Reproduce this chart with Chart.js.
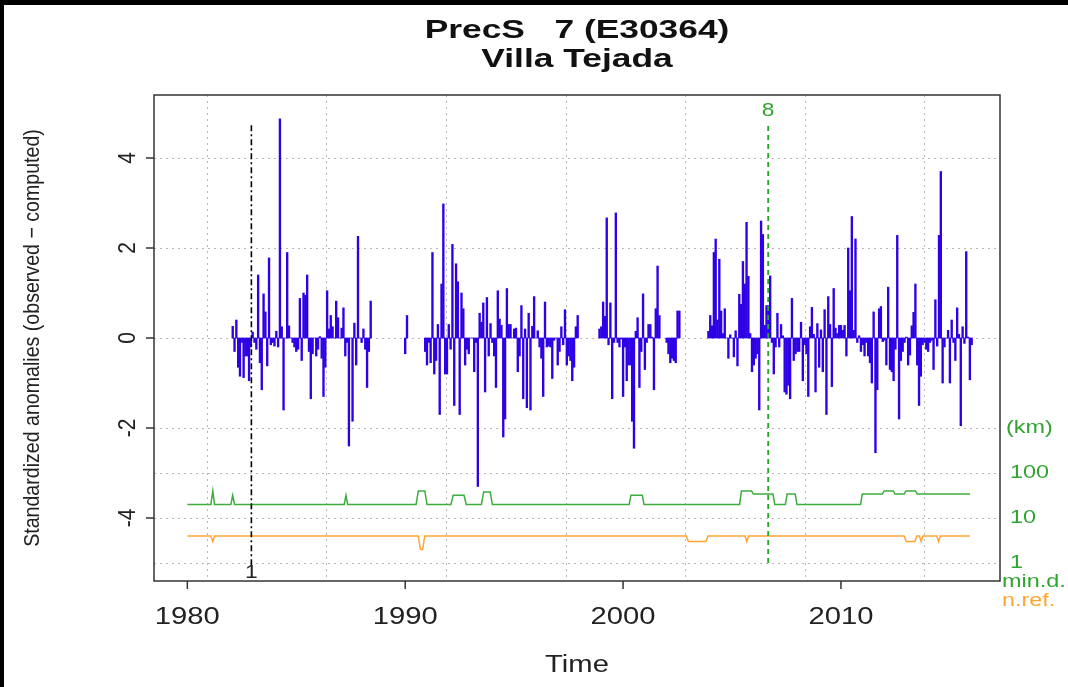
<!DOCTYPE html>
<html>
<head>
<meta charset="utf-8">
<script src="https://cdn.jsdelivr.net/npm/chart.js@4"></script>
<style>
html, body { margin: 0; padding: 0; background: #fff; }
#wrap { position: relative; width: 1068px; height: 687px; }
</style>
</head>
<body>
<div id="wrap"><canvas id="anomChart" width="1068" height="687"></canvas></div>
<script>
// monthly standardized anomalies, one array per block of consecutive months
const segStarts = [1982.083, 1990.0, 1990.917, 1998.917, 2002.0, 2003.917];
const seg1982 = [.26,-.3,.4,-.65,-.85,-.1,-.88,-.4,-.4,-.95,
  -.2,.13,-.1,-.25,1.4,-.55,-1.15,.98,.58,-.62,
  1.78,-.15,-.1,-.18,.15,-.2,4.87,.25,-1.6,0,
  1.9,.27,0,-.1,-.2,-.3,-.25,.88,-.5,1.0,
  .95,1.4,-.3,-1.35,-.35,0,-.4,-.25,.03,-.45,
  -1.3,-.65,1.05,.2,.5,.25,0,.82,.45,0,
  .22,.67,-.4,-.1,-2.4,0,-1.85,.33,-.6,2.26,
  0,-.1,.2,-.25,-1.1,-.3,.82];
const seg1990 = [-.35, .5];
const seg1991 = [-.3,-.6,-.1,-.55,1.9,-.8,-.5,.3,-1.7,1.2,
  2.98,-.8,-.8,.3,-.25,2.08,-1.5,1.65,1.25,-1.7,
  1.0,.65,-.6,-.25,-.35,0,0,-.75,-.1,-3.3,
  .55,.35,.78,-1.2,.9,-.4,.32,-.1,-.4,-1.1,
  1.05,.42,.28,-2.2,-1.8,1.1,.3,.3,0,.2,
  .22,-.75,-.4,.72,-1.35,.2,-1.55,.55,-1.6,.26,
  .92,0,.16,-.2,-.45,-1.3,.8,-.2,-.18,-.2,
  -.9,-.05,0,-.6,-.3,.25,-.15,.63,-.6,-.4,
  -.5,-.95,-.65,.25,.5];
const seg1999 = [.2,.25,.8,.48,2.67,-.15,.78,-1.35,-.1,2.78,
  -.1,-.2,-.02,-1.3,-.2,-.95,-.6,-.6,-1.85,-2.45,
  .15,.45,-1.1,-.3,.98,-.7,-.1,.3,.3,.02,
  -1.15,.65,1.6,.5];
const seg2002 = [-.1,-.35,-.55,-.45,-.5,-.55,.6,.6];
const seg2004 = [.15,.5,.27,1.9,2.2,.4,1.75,.6,.1,.65,
  0,-.45,.07,0,-.42,.16,-.62,.97,.75,1.7,
  1.2,2.57,1.37,.1,-.75,-.6,-.45,-.35,-1.6,2.6,
  2.3,.28,.72,.72,1.38,-.1,-.8,-.2,.55,-.2,
  .3,.05,-1.2,-1.25,-1.05,-1.35,.88,-.5,-.35,-.3,
  -.3,.35,-.95,-.15,-.35,-1.3,.25,.68,.08,-1.2,
  .32,-.65,.18,-.75,.63,-1.7,.92,.3,-1.08,1.1,
  .22,.1,.28,.28,.17,.28,-.4,2.0,1.05,2.7,
  .17,2.2,-.1,.05,-.3,-.15,-.4,-.1,-.4,-.55,
  -1.0,.58,-2.55,-1.15,.65,.7,-.08,-.05,-.6,1.13,
  -.7,-.75,-.95,-.25,2.28,-1.8,-.5,-.3,-.1,.02,
  -.6,-.38,.27,.57,1.2,-.6,-1.5,-.85,-.15,-.1,
  -.25,-.3,-.1,-.05,-.7,.85,-.18,2.28,3.7,-1.0,
  -.2,0,.17,-1.0,.4,-.1,-.5,.67,.08,-1.95,
  .25,-.12,1.92,.02,-.93,-.15];
const segments = [seg1982, seg1990, seg1991, seg1999, seg2002, seg2004];

// minimum distance to neighbours (km) and number of references
const minDYears = [1980.0, 1981.08, 1981.17, 1981.25, 1982.0, 1982.08, 1982.17, 1987.2, 1987.28, 1987.36,
  1990.5, 1990.6, 1990.9, 1991.0, 1992.1, 1992.2, 1992.7, 1992.8, 1993.5, 1993.6, 1993.9, 1994.0,
  2000.28, 2000.36, 2000.88, 2000.96, 2005.35, 2005.43, 2005.9, 2005.98, 2006.88, 2006.96,
  2007.45, 2007.53, 2007.9, 2007.98, 2010.9, 2010.98, 2011.9, 2011.98, 2012.4, 2012.48,
  2012.9, 2012.98, 2013.42, 2013.5, 2015.92];
const minDKm = [20, 20, 40, 20, 20, 32, 20, 20, 32, 20,
  20, 40, 40, 20, 20, 32, 32, 20, 20, 38, 38, 20,
  20, 32, 32, 20, 20, 40, 40, 34, 34, 20,
  20, 34, 34, 20, 20, 34, 34, 40, 40, 34,
  34, 40, 40, 34, 34];
const nRefYears = [1980.0, 1981.08, 1981.17, 1981.25, 1990.6, 1990.7, 1990.8, 1990.9,
  2002.9, 2003.0, 2003.8, 2003.9, 2005.6, 2005.68, 2005.76, 2012.9, 2013.0, 2013.4, 2013.48,
  2013.6, 2013.68, 2013.76, 2014.4, 2014.48, 2014.56, 2015.92];
const nRefCount = [4, 4, 3, 4, 4, 2, 2, 4,
  4, 3, 3, 4, 4, 3, 4, 4, 3, 3, 4,
  4, 3, 4, 4, 3, 4, 4];

// detected breaks
const breakYears = [1982.94, 2006.66];
const breakLabels = ['1', '8'];

// axes
const xTicks = [1980, 1990, 2000, 2010];
const yTicks = [4, 2, 0, -2, -4];
const gridYears = [1980.89, 1986.37, 1991.87, 1997.36, 2002.84, 2008.33, 2013.82];
const gridValues = [4, 2, 0, -2, -3, -4, -5];
const logTicks = [100, 10, 1];

const FONT = '"Liberation Sans", Arial, sans-serif';
const BLUE = '#2E00E6';
const GREEN = '#3DAE3D';
const GREEN_TXT = '#2FA52F';
const ORANGE = '#FFA533';
const SX = 1.27; // the picture is wider than tall, text is stretched sideways

function logPos(v) { return -5 + Math.log10(v); }

// text with a horizontal stretch, optionally rotated
function putText(ctx, text, x, y, sx, rot) {
  ctx.save();
  ctx.translate(x, y);
  ctx.scale(sx, 1);
  if (rot) ctx.rotate(rot);
  ctx.fillText(text, 0, 0);
  ctx.restore();
}

const barPoints = [];
segments.forEach((seg, s) => {
  seg.forEach((v, i) => barPoints.push({ x: segStarts[s] + i / 12, y: v }));
});

const rPlot = {
  id: 'rPlot',
  beforeDatasetsDraw(chart) {
    const { ctx, chartArea: a, scales: { x, y } } = chart;
    ctx.save();
    ctx.strokeStyle = '#B8B8B8';
    ctx.lineWidth = 1;
    ctx.setLineDash([2, 4]);
    gridYears.forEach(g => {
      const px = Math.round(x.getPixelForValue(g)) + 0.5;
      ctx.beginPath(); ctx.moveTo(px, a.top); ctx.lineTo(px, a.bottom); ctx.stroke();
    });
    gridValues.forEach(g => {
      const py = Math.round(y.getPixelForValue(g)) + 0.5;
      ctx.beginPath(); ctx.moveTo(a.left, py); ctx.lineTo(a.right, py); ctx.stroke();
    });
    ctx.restore();
  },
  afterDraw(chart) {
    const { ctx, chartArea: a, scales: { x, y } } = chart;
    const cx = (a.left + a.right) / 2;
    ctx.save();
    // box
    ctx.strokeStyle = '#333';
    ctx.lineWidth = 1.5;
    ctx.strokeRect(a.left, a.top, a.right - a.left, a.bottom - a.top);
    // x ticks
    ctx.fillStyle = '#222';
    ctx.font = '23px ' + FONT;
    ctx.textAlign = 'center';
    ctx.textBaseline = 'middle';
    xTicks.forEach(t => {
      const px = x.getPixelForValue(t);
      ctx.beginPath(); ctx.moveTo(px, a.bottom); ctx.lineTo(px, a.bottom + 8); ctx.stroke();
      putText(ctx, String(t), px, 618, SX);
    });
    // y ticks (rotated like R)
    ctx.font = '21px ' + FONT;
    yTicks.forEach(t => {
      const py = y.getPixelForValue(t);
      ctx.beginPath(); ctx.moveTo(a.left, py); ctx.lineTo(a.left - 8, py); ctx.stroke();
      putText(ctx, String(t), 128, py, 1.15, -Math.PI / 2);
    });
    // axis titles
    ctx.font = '23px ' + FONT;
    putText(ctx, 'Time', cx, 666, SX);
    ctx.font = '19.6px ' + FONT;
    putText(ctx, 'Standardized anomalies (observed \u2212 computed)', 33, (a.top + a.bottom) / 2, 1.15, -Math.PI / 2);
    // title
    ctx.font = 'bold 26px ' + FONT;
    ctx.fillStyle = '#111';
    putText(ctx, 'PrecS   7 (E30364)', cx, 31, 1.36);
    putText(ctx, 'Villa Tejada', cx, 60, 1.36);
    // break labels
    ctx.font = '19px ' + FONT;
    ctx.fillStyle = '#222';
    putText(ctx, breakLabels[0], x.getPixelForValue(breakYears[0]), y.getPixelForValue(-5.22), 1.2);
    ctx.fillStyle = GREEN_TXT;
    putText(ctx, breakLabels[1], x.getPixelForValue(breakYears[1]), y.getPixelForValue(5.05), 1.2);
    // right-hand log scale
    ctx.textAlign = 'left';
    ctx.font = '18px ' + FONT;
    putText(ctx, '(km)', a.right + 6, y.getPixelForValue(-2), 1.3);
    logTicks.forEach(t => putText(ctx, String(t), a.right + 10, y.getPixelForValue(logPos(t)), 1.3));
    putText(ctx, 'min.d.', a.right + 2, 582, 1.3);
    ctx.fillStyle = ORANGE;
    putText(ctx, 'n.ref.', a.right + 2, 601, 1.3);
    // outer frame of the image
    ctx.fillStyle = '#000';
    ctx.fillRect(0, 0, 1068, 5);
    ctx.fillRect(0, 0, 4, 687);
    ctx.restore();
  }
};

new Chart(document.getElementById('anomChart'), {
  type: 'bar',
  data: {
    datasets: [
      {
        type: 'bar',
        data: barPoints,
        backgroundColor: BLUE,
        barThickness: 1.7,
        order: 3
      },
      {
        type: 'line',
        data: minDYears.map((t, i) => ({ x: t, y: logPos(minDKm[i]) })),
        borderColor: GREEN,
        borderWidth: 1.5,
        pointRadius: 0,
        tension: 0,
        order: 2
      },
      {
        type: 'line',
        data: nRefYears.map((t, i) => ({ x: t, y: logPos(nRefCount[i]) })),
        borderColor: ORANGE,
        borderWidth: 1.5,
        pointRadius: 0,
        tension: 0,
        order: 2
      },
      {
        type: 'line',
        data: [{ x: breakYears[0], y: -5.05 }, { x: breakYears[0], y: 4.73 }],
        borderColor: '#000',
        borderWidth: 1.6,
        borderDash: [6, 3, 2, 3],
        pointRadius: 0,
        order: 1
      },
      {
        type: 'line',
        data: [{ x: breakYears[1], y: -5.0 }, { x: breakYears[1], y: 4.8 }],
        borderColor: '#22AA22',
        borderWidth: 1.8,
        borderDash: [5, 4],
        pointRadius: 0,
        order: 1
      }
    ]
  },
  options: {
    responsive: false,
    animation: false,
    devicePixelRatio: 1,
    layout: { padding: { left: 154, top: 95, right: 68, bottom: 106 } },
    scales: {
      x: { type: 'linear', min: 1978.47, max: 2017.3, offset: false, display: false },
      y: { type: 'linear', min: -5.4, max: 5.4, display: false }
    },
    plugins: { legend: { display: false }, tooltip: { enabled: false } }
  },
  plugins: [rPlot]
});
</script>
</body>
</html>
